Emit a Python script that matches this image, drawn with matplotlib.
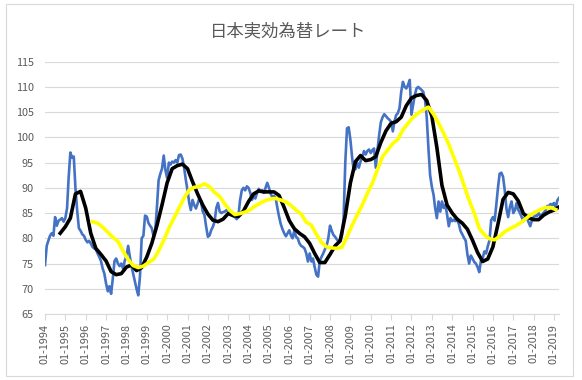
import pandas as pd
import matplotlib
matplotlib.use('Agg')
import matplotlib.pyplot as plt
import matplotlib.dates as mdates
from matplotlib.patches import Rectangle

plt.rcParams['font.family'] = ['Noto Sans CJK JP', 'DejaVu Sans']

title = '日本実効為替レート'

# monthly effective exchange rate, Jan 1994 - Apr 2019
rate_1994 = [74.7, 78.5, 79.5, 80.5, 81.0, 80.5, 84.2, 82.5, 83.5, 83.7, 84.0, 83.3]
rate_1995 = [84.0, 86.0, 92.0, 97.0, 96.0, 96.2, 90.0, 85.5, 82.0, 81.5, 80.8, 80.5]
rate_1996 = [79.7, 79.2, 79.5, 79.0, 78.3, 78.0, 77.8, 77.0, 76.3, 75.5, 74.0, 73.0]
rate_1997 = [71.0, 69.5, 70.5, 69.0, 72.0, 75.5, 76.0, 75.0, 74.5, 75.0, 74.0, 75.5]
rate_1998 = [76.5, 78.5, 76.5, 74.5, 73.0, 71.5, 70.0, 68.7, 72.5, 80.0, 80.5, 84.5]
rate_1999 = [84.3, 83.0, 82.5, 82.0, 80.5, 81.5, 86.0, 91.5, 92.8, 93.8, 96.4, 93.5]
rate_2000 = [92.0, 95.0, 94.6, 95.2, 95.0, 95.5, 95.0, 96.5, 96.6, 95.8, 94.0, 91.6]
rate_2001 = [89.5, 87.0, 85.6, 87.6, 86.6, 85.9, 86.9, 87.9, 87.2, 85.3, 84.6, 82.3]
rate_2002 = [80.3, 80.6, 81.6, 82.3, 83.3, 86.0, 87.0, 85.3, 85.0, 85.2, 85.3, 85.6]
rate_2003 = [85.3, 85.0, 84.8, 84.4, 84.2, 83.8, 84.3, 87.5, 89.5, 90.0, 89.5, 90.3]
rate_2004 = [90.0, 89.0, 87.6, 88.3, 87.9, 89.0, 89.8, 89.2, 89.5, 89.0, 90.0, 91.0]
rate_2005 = [90.0, 88.8, 88.2, 88.4, 88.0, 86.0, 84.3, 82.8, 81.8, 81.0, 80.4, 81.0]
rate_2006 = [81.6, 80.5, 80.0, 81.6, 80.3, 80.0, 79.0, 78.5, 78.3, 78.0, 77.0, 75.4]
rate_2007 = [77.0, 75.4, 76.0, 74.3, 72.8, 72.4, 75.5, 76.3, 77.0, 77.8, 78.5, 80.0]
rate_2008 = [82.5, 81.5, 80.7, 80.3, 79.8, 79.4, 79.8, 80.5, 84.0, 95.0, 101.8, 102.0]
rate_2009 = [99.5, 96.0, 93.5, 93.7, 95.0, 94.0, 95.2, 96.0, 97.3, 96.6, 97.3, 97.6]
rate_2010 = [96.9, 97.5, 97.8, 94.0, 97.5, 100.5, 103.0, 104.0, 104.6, 104.2, 103.8, 103.5]
rate_2011 = [103.1, 101.2, 103.1, 104.4, 104.8, 105.8, 109.0, 111.0, 110.0, 109.7, 110.4, 111.4]
rate_2012 = [104.5, 106.5, 108.4, 109.7, 110.0, 109.7, 109.4, 109.0, 107.4, 104.0, 97.8, 92.5]
rate_2013 = [90.2, 88.6, 86.0, 84.0, 87.3, 85.3, 87.3, 86.0, 86.6, 84.7, 82.4, 84.0]
rate_2014 = [83.4, 83.7, 83.4, 83.7, 82.8, 81.4, 80.8, 80.1, 79.5, 76.8, 75.0, 76.6]
rate_2015 = [76.0, 75.3, 75.0, 74.3, 73.3, 75.6, 76.0, 77.4, 77.0, 78.4, 79.6, 83.6]
rate_2016 = [84.2, 83.5, 86.5, 90.0, 92.8, 93.0, 92.2, 89.5, 85.8, 84.2, 86.2, 87.3]
rate_2017 = [85.0, 85.6, 87.0, 85.6, 85.0, 84.2, 83.4, 84.4, 84.0, 83.2, 82.4, 83.6]
rate_2018 = [84.2, 84.5, 84.4, 85.0, 84.4, 84.7, 85.1, 85.5, 86.4, 86.4, 86.8, 86.6]
rate_2019 = [87.0, 86.0, 87.5, 88.0]

# short moving average (black), quarterly readings from Oct 1994
short_ma_start = '1994-10-01'
short_ma = [81.0, 82.3, 84.0, 88.8, 89.3, 86.0, 81.0, 78.0, 76.8, 75.5,
            73.4, 72.8, 73.0, 74.3, 74.7, 73.6, 74.2, 76.3, 79.0, 82.5,
            86.6, 91.0, 93.8, 94.4, 94.7, 93.8, 91.2, 88.8, 86.6, 84.8,
            83.6, 83.3, 83.8, 84.9, 84.5, 84.3, 85.4, 87.3, 88.8, 89.4,
            89.2, 89.2, 89.2, 88.5, 86.1, 83.5, 81.9, 81.0, 80.3, 79.0,
            77.0, 75.2, 75.2, 76.8, 78.5, 79.5, 84.5, 91.0, 95.2, 96.4,
            95.4, 95.6, 96.2, 99.0, 101.3, 102.8, 103.1, 104.0, 106.3, 107.8,
            108.3, 108.5, 107.3, 104.2, 98.0, 90.5, 86.6, 85.0, 83.8, 83.0,
            81.8, 79.6, 77.2, 75.4, 75.9, 78.3, 82.8, 87.7, 89.1, 88.8,
            87.4, 84.9, 84.1, 83.7, 83.7, 84.6, 85.2, 85.6, 86.2]

# long moving average (yellow), quarterly readings from May 1996
long_ma_start = '1996-05-01'
long_ma = [83.3, 83.0, 82.2, 81.2, 80.2, 79.4, 77.5, 75.8, 74.6, 74.2,
           74.5, 75.2, 75.8, 77.5, 79.6, 82.0, 84.0, 86.0, 88.0, 89.6,
           90.1, 90.3, 90.8, 90.2, 89.1, 88.3, 86.8, 85.5, 84.7, 84.9,
           85.2, 85.7, 86.4, 87.0, 87.5, 87.8, 87.9, 87.6, 87.2, 86.5,
           85.6, 84.8, 83.2, 82.6, 80.8, 79.2, 78.3, 78.1, 78.0, 78.2,
           80.3, 82.6, 84.6, 86.6, 88.9, 91.0, 93.6, 96.2, 97.5, 98.8,
           99.6, 101.5, 102.8, 104.0, 104.8, 105.5, 106.0, 104.6, 102.8, 100.8,
           98.6, 96.0, 93.5, 90.5, 87.5, 85.0, 82.0, 80.7, 79.9, 79.7,
           80.4, 81.3, 81.9, 82.4, 83.0, 83.8, 84.6, 85.2, 85.7, 86.1,
           86.1, 85.7]

y_ticks = [65, 70, 75, 80, 85, 90, 95, 100, 105, 110, 115]

rate = (rate_1994 + rate_1995 + rate_1996 + rate_1997 + rate_1998 + rate_1999
        + rate_2000 + rate_2001 + rate_2002 + rate_2003 + rate_2004 + rate_2005
        + rate_2006 + rate_2007 + rate_2008 + rate_2009 + rate_2010 + rate_2011
        + rate_2012 + rate_2013 + rate_2014 + rate_2015 + rate_2016 + rate_2017
        + rate_2018 + rate_2019)
rate_dates = pd.date_range('1994-01-01', periods=len(rate), freq='MS')
short_dates = pd.date_range(short_ma_start, periods=len(short_ma), freq='3MS')
long_dates = pd.date_range(long_ma_start, periods=len(long_ma), freq='3MS')

grey = '#595959'
grid = '#D9D9D9'

fig = plt.figure(figsize=(5.82, 3.80), dpi=100)
ax = fig.add_axes([45 / 582, 1 - 314 / 380, (559 - 45) / 582, (314 - 61.7) / 380])

ax.plot(rate_dates, rate, color='#4472C4', lw=1.9, zorder=3)
ax.plot(short_dates, short_ma, color='black', lw=2.6, zorder=4)
ax.plot(long_dates, long_ma, color='#FFFF00', lw=2.6, zorder=5)

ax.set_ylim(65, 115)
ax.set_yticks(y_ticks)
ax.set_xlim(rate_dates[0], rate_dates[-1])
ax.xaxis.set_major_locator(mdates.YearLocator(1, month=1, day=1))
ax.xaxis.set_major_formatter(mdates.DateFormatter('%m-%Y'))

ax.grid(axis='y', color=grid, lw=0.8)
ax.set_axisbelow(True)
for side in ['top', 'right', 'left']:
    ax.spines[side].set_visible(False)
ax.spines['bottom'].set_color(grid)
ax.spines['bottom'].set_linewidth(0.8)
ax.tick_params(axis='y', length=0, pad=8, labelsize=7.8, labelcolor=grey)
ax.tick_params(axis='x', length=4, width=0.8, color=grid, direction='out',
               pad=3, labelsize=7.8, labelcolor=grey, labelrotation=90)

fig.text(288 / 582, 1 - 31 / 380, title, ha='center', va='center',
         fontsize=12.5, color=grey)

fig.add_artist(Rectangle((6 / 582, 4 / 380), 567 / 582, 372 / 380,
                         transform=fig.transFigure, fill=False,
                         edgecolor=grid, lw=0.8))

fig.savefig('out.png', dpi=100)
